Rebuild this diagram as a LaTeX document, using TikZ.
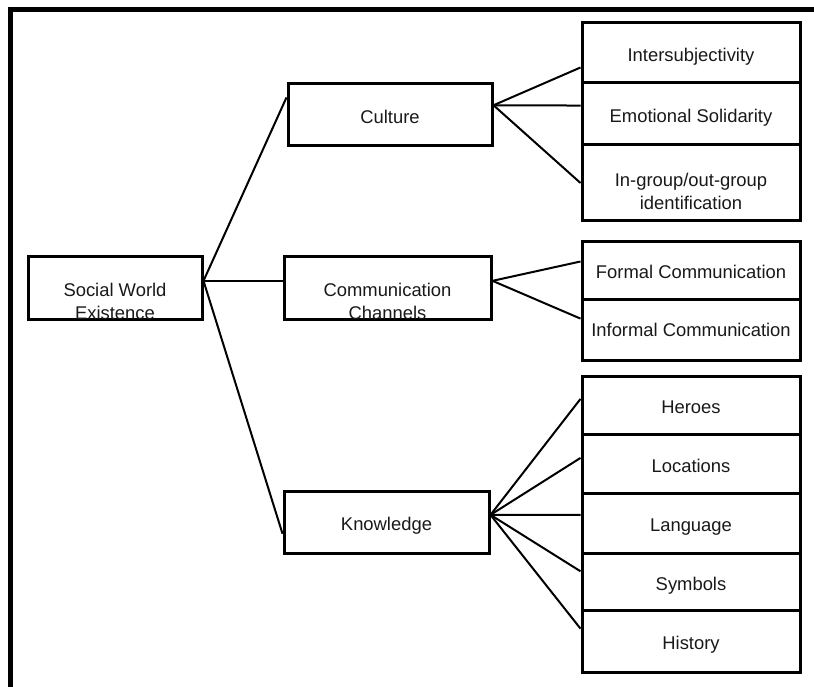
\documentclass[tikz,border=0pt]{standalone}
\usepackage{fontspec}
\setmainfont{Liberation Sans}
\usetikzlibrary{calc}
\newcommand\twoline[2]{\begin{tabular}[t]{@{}c@{}}#1\\#2\end{tabular}}
\begin{document}
\begin{tikzpicture}[x=1pt,y=-1pt,
  box/.style={draw=black, line width=3pt, rectangle, inner sep=0pt,
    font=\fontsize{18.4}{23}\selectfont, text=black!90,
    text height=17.2pt, text depth=0pt},
  midbox/.style={box, minimum height=62pt},
  leaf/.style={box, minimum width=218pt},
  conn/.style={draw=black, line width=2pt},
  frame/.style={draw=black, line width=4.6pt}]
\useasboundingbox (0,0) rectangle (814,687);
\fill[white] (0,0) rectangle (814,687);
% frame (top and left edges)
\coordinate (fbl) at (10.5,700);
\coordinate (ftl) at (10.5,9.5);
\coordinate (ftr) at (830,9.5);
\draw[frame] (fbl) -- (ftl) -- (ftr);
% root
\node[midbox, minimum width=174pt] (swe) at (115,288) {\twoline{Social World}{Existence}};
% middle column
\node[midbox, minimum width=204pt] (cult) at (390,115) {Culture};
\node[midbox, minimum width=207pt] (comm) at (387.5,288) {\twoline{Communication}{Channels}};
\node[midbox, minimum width=205pt] (know) at (386.5,522) {Knowledge};
% right column: culture
\node[leaf, minimum height=60pt] (inter) at (691,53) {Intersubjectivity};
\node[leaf, minimum height=62pt] (emo) at (691,114) {Emotional Solidarity};
\node[leaf, minimum height=76pt, text height=7.2pt] (ingr) at (691,183) {\twoline{In-group/out-group}{identification}};
% right column: communication
\node[leaf, minimum height=57pt, text height=16pt] (formal) at (691,270.5) {Formal Communication};
\node[leaf, minimum height=61pt, text height=14pt] (informal) at (691,329.5) {Informal Communication};
% right column: knowledge
\node[leaf, minimum height=58pt] (heroes) at (691,405) {Heroes};
\node[leaf, minimum height=59pt] (loc) at (691,463.5) {Locations};
\node[leaf, minimum height=60pt] (lang) at (691,523) {Language};
\node[leaf, minimum height=57pt] (sym) at (691,581.5) {Symbols};
\node[leaf, minimum height=62pt] (hist) at (691,641) {History};
% connectors root -> middle
\draw[conn] ($(swe.north east)!0.39!(swe.south east)$) -- ($(cult.north west)!0.23!(cult.south west)$);
\draw[conn] ($(swe.north east)!0.39!(swe.south east)$) -- ($(comm.north west)!0.39!(comm.south west)$);
\draw[conn] ($(swe.north east)!0.39!(swe.south east)$) -- ($(know.north west)!0.68!(know.south west)$);
% culture -> leaves
\draw[conn] ($(cult.north east)!0.35!(cult.south east)$) -- ($(inter.north west)!0.73!(inter.south west)$);
\draw[conn] ($(cult.north east)!0.35!(cult.south east)$) -- ($(emo.north west)!0.37!(emo.south west)$);
\draw[conn] ($(cult.north east)!0.35!(cult.south east)$) -- ($(ingr.north west)!0.5!(ingr.south west)$);
% communication -> leaves
\draw[conn] ($(comm.north east)!0.39!(comm.south east)$) -- ($(formal.north west)!0.35!(formal.south west)$);
\draw[conn] ($(comm.north east)!0.39!(comm.south east)$) -- ($(informal.north west)!0.33!(informal.south west)$);
% knowledge -> leaves
\draw[conn] ($(know.north east)!0.39!(know.south east)$) -- ($(heroes.north west)!0.40!(heroes.south west)$);
\draw[conn] ($(know.north east)!0.39!(know.south east)$) -- ($(loc.north west)!0.41!(loc.south west)$);
\draw[conn] ($(know.north east)!0.39!(know.south east)$) -- ($(lang.north west)!0.37!(lang.south west)$);
\draw[conn] ($(know.north east)!0.39!(know.south east)$) -- ($(sym.north west)!0.33!(sym.south west)$);
\draw[conn] ($(know.north east)!0.39!(know.south east)$) -- ($(hist.north west)!0.31!(hist.south west)$);
\end{tikzpicture}
\end{document}
